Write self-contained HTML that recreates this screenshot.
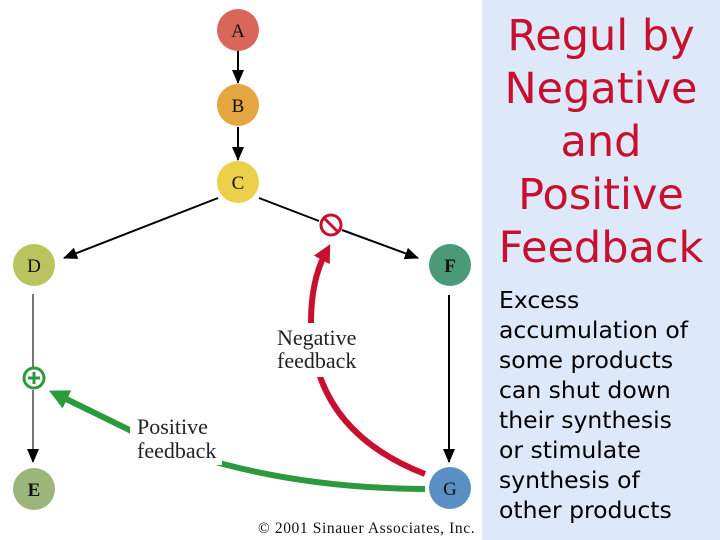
<!DOCTYPE html>
<html><head><meta charset="utf-8"><style>
html,body{margin:0;padding:0;}
body{width:720px;height:540px;position:relative;background:#fff;overflow:hidden;font-family:"DejaVu Sans","Liberation Sans",sans-serif;}
#panel{position:absolute;left:482px;top:0;width:238px;height:540px;background:#dde8f9;}
#title{position:absolute;left:482px;top:10px;width:238px;text-align:center;color:#c8102e;font-size:43px;line-height:53px;}
#body{position:absolute;left:499px;top:285px;width:221px;color:#000;font-size:23.5px;line-height:30px;}
svg{position:absolute;left:0;top:0;}
</style></head><body>
<div id="panel"></div>
<div id="title">Regul by<br>Negative<br>and<br>Positive<br>Feedback</div>
<div id="body">Excess<br>accumulation of<br>some products<br>can shut down<br>their synthesis<br>or stimulate<br>synthesis of<br>other products</div>
<svg width="482" height="540" viewBox="0 0 482 540">
<defs>
<marker id="ab" markerWidth="14" markerHeight="12" refX="13" refY="6" orient="auto" markerUnits="userSpaceOnUse"><path d="M0,0 L14,6 L0,12 z" fill="#000"/></marker>
<marker id="ar" markerWidth="18" markerHeight="18" refX="9" refY="9" orient="auto" markerUnits="userSpaceOnUse"><path d="M0,0 L18,9 L0,18 z" fill="#c8102e"/></marker>
<marker id="ag" markerWidth="20" markerHeight="20" refX="10" refY="10" orient="auto" markerUnits="userSpaceOnUse"><path d="M0,0 L20,10 L0,20 z" fill="#2a9a3a"/></marker>
</defs>
<g stroke="#000" stroke-width="2" fill="none">
<line x1="238" y1="51" x2="238" y2="83" marker-end="url(#ab)"/>
<line x1="238" y1="127" x2="238" y2="160" marker-end="url(#ab)"/>
<line x1="218" y1="198" x2="64" y2="258" marker-end="url(#ab)"/>
<line x1="259" y1="198" x2="319" y2="221"/>
<line x1="342" y1="230" x2="418" y2="258" marker-end="url(#ab)"/>
<line x1="33" y1="294" x2="33" y2="367" stroke="#777"/>
<line x1="33" y1="390" x2="33" y2="462" marker-end="url(#ab)" stroke="#777"/>
<line x1="449" y1="295" x2="449" y2="462" marker-end="url(#ab)"/>
</g>
<path d="M425,474 Q312,430 311,322 Q311,280 326,252" stroke="#c8102e" stroke-width="6" fill="none" marker-end="url(#ar)"/>
<path d="M425,489 Q270,488 150,440 L58,395" stroke="#2a9a3a" stroke-width="6" fill="none" marker-end="url(#ag)"/>
<rect x="275" y="323" width="88" height="54" fill="#fff"/>
<rect x="130" y="413" width="92" height="52" fill="#fff"/>
<g font-family="Liberation Serif,serif" font-size="22" fill="#222">
<text x="277" y="345">Negative</text><text x="277" y="368">feedback</text>
<text x="137" y="434">Positive</text><text x="137" y="458">feedback</text>
</g>
<circle cx="331" cy="225" r="10" fill="#fff" stroke="#c8102e" stroke-width="3"/>
<line x1="324" y1="218" x2="338" y2="232" stroke="#c8102e" stroke-width="3"/>
<circle cx="34" cy="378" r="10" fill="#fff" stroke="#2a9a3a" stroke-width="3"/>
<path d="M28,378 H40 M34,372 V384" stroke="#2a9a3a" stroke-width="3"/>
<g font-family="Liberation Serif,serif" font-size="19" text-anchor="middle" fill="#111">
<circle cx="238" cy="30" r="21" fill="#d9665a"/><text x="238" y="37">A</text>
<circle cx="238" cy="105" r="21" fill="#e5a53f"/><text x="238" y="112">B</text>
<circle cx="238" cy="182" r="21" fill="#ecd04a"/><text x="238" y="189">C</text>
<circle cx="34" cy="265" r="21" fill="#b9c45e"/><text x="34" y="272">D</text>
<circle cx="450" cy="265" r="21" fill="#4a9a7a"/><text x="450" y="272" font-weight="bold">F</text>
<circle cx="34" cy="489" r="21" fill="#9bb57a"/><text x="34" y="496" font-weight="bold">E</text>
<circle cx="450" cy="488" r="21" fill="#5a8fc4"/><text x="450" y="495">G</text>
</g>
<text x="258" y="533" font-family="Liberation Serif,serif" font-size="15.5" letter-spacing="0.6" fill="#111">© 2001 Sinauer Associates, Inc.</text>
</svg>
</body></html>
